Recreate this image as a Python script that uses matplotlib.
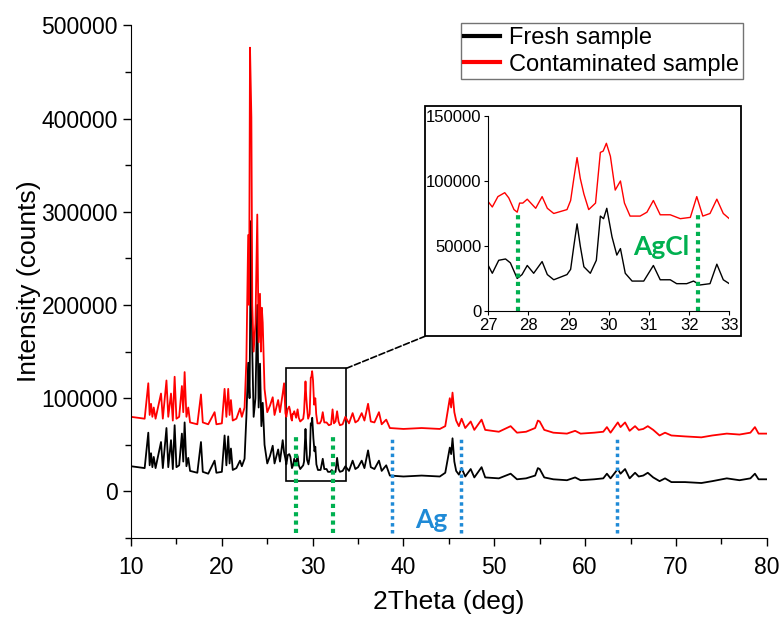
import matplotlib
matplotlib.use("Agg")
import matplotlib.pyplot as plt
from matplotlib.patches import Rectangle, ConnectionPatch

plt.rcParams['font.family'] = ['Liberation Sans', 'DejaVu Sans']

# Fresh sample (black)
fresh_x = [10.0, 11.5, 11.9, 12.05, 12.2, 12.35, 12.5, 12.7, 13.3, 13.5, 13.9, 14.1, 14.4, 14.6,
           14.8, 15.0, 15.3, 15.6, 15.75, 15.9, 16.1, 16.3, 16.5, 17.3, 17.7, 17.9, 18.5, 19.2,
           19.4, 20.0, 20.3, 20.5, 20.7, 20.85, 21.0, 21.2, 21.6, 22.0, 22.2, 22.5, 22.7, 22.9,
           23.05, 23.2, 23.35, 23.5, 23.7, 23.9, 24.05, 24.2, 24.35, 24.5, 24.7, 25.0, 25.3, 25.6,
           25.8, 26.2, 26.4, 26.7, 26.85,
           27.0, 27.1, 27.26, 27.43, 27.55, 27.72, 27.84, 27.97, 28.13, 28.34, 28.47, 28.63, 28.96,
           29.05, 29.13, 29.21, 29.29, 29.38, 29.54, 29.69, 29.79, 29.87, 29.95, 30.08, 30.2, 30.29,
           30.41, 30.58, 30.87, 30.95, 31.11, 31.28, 31.53, 31.69, 31.94, 32.11, 32.27, 32.52, 32.69,
           32.85, 33.0,
           33.3, 33.6, 34.0, 34.4, 34.7, 35.0, 35.4, 35.7, 36.1, 36.4, 36.8, 37.3, 37.6, 38.1, 38.5,
           40.0, 42.0, 44.0, 44.6, 45.1, 45.25, 45.4, 45.6, 45.8, 46.1, 46.4, 46.8, 47.4, 47.8, 48.6,
           49.0, 50.5, 51.8, 52.5, 53.5, 54.5, 54.8, 55.0, 55.5, 56.5, 58.0, 58.9, 59.5, 61.0, 62.0,
           62.4, 62.8, 63.6, 63.9, 64.4, 64.9, 65.5, 65.9, 66.4, 66.9, 67.5, 68.2, 68.8, 69.5, 71.0,
           72.8, 74.0, 75.6, 77.0, 78.2, 78.7, 79.1, 80.0]
fresh_y = [27000, 25000, 63000, 28000, 41000, 26000, 37000, 25000, 53000, 25000, 68000, 26000, 55000, 24000,
           71000, 26000, 28000, 62000, 32000, 74000, 27000, 36000, 22000, 20000, 53000, 21000, 19000, 33000,
           20000, 21000, 60000, 28000, 59000, 30000, 46000, 23000, 25000, 33000, 27000, 35000, 80000, 138000,
           100000, 290000, 150000, 80000, 100000, 200000, 90000, 137000, 70000, 95000, 50000, 30000, 38000, 49000,
           30000, 45000, 32000, 55000, 42000,
           35000, 29000, 39000, 40000, 37000, 25000, 28000, 35000, 29000, 38000, 28000, 24000, 28000,
           32000, 50000, 67000, 50000, 34000, 29000, 39000, 73000, 71000, 79000, 57000, 43000, 48000,
           29000, 23000, 23000, 27000, 35000, 24000, 24000, 21000, 21000, 23000, 20000, 21000, 36000,
           24000, 21000,
           22000, 27000, 22000, 33000, 24000, 26000, 33000, 25000, 44000, 26000, 24000, 33000, 22000, 28000, 17000,
           16000, 17000, 16000, 20000, 47000, 40000, 57000, 32000, 22000, 18000, 25000, 16000, 24000, 15000, 26000,
           15000, 14000, 19000, 13000, 14000, 17000, 25000, 24000, 15000, 13000, 12000, 15000, 12000, 13000, 14000,
           19000, 14000, 24000, 19000, 24000, 14000, 20000, 16000, 17000, 20000, 15000, 11000, 14000, 10000, 10000,
           9000, 11000, 14000, 12000, 14000, 19000, 13000, 13000]

# Contaminated sample (red)
cont_x = [10.0, 11.5, 11.9, 12.05, 12.2, 12.35, 12.5, 12.7, 13.3, 13.5, 13.9, 14.1, 14.4, 14.6,
          14.8, 15.0, 15.3, 15.6, 15.75, 15.9, 16.1, 16.3, 16.5, 17.3, 17.7, 17.9, 18.5, 19.2,
          19.4, 20.0, 20.3, 20.5, 20.7, 20.85, 21.0, 21.2, 21.6, 22.0, 22.2, 22.5, 22.7, 22.9,
          23.0, 23.1, 23.25, 23.35, 23.5, 23.7, 23.9, 24.05, 24.2, 24.3, 24.4, 24.5, 24.7, 25.0,
          25.3, 25.6, 25.8, 26.2, 26.4, 26.7, 26.85,
          27.0, 27.1, 27.24, 27.41, 27.51, 27.64, 27.72, 27.78, 27.86, 27.97, 28.18, 28.34, 28.47,
          28.63, 28.96, 29.05, 29.13, 29.21, 29.29, 29.38, 29.5, 29.67, 29.79, 29.86, 29.94, 30.04,
          30.16, 30.29, 30.39, 30.53, 30.78, 30.95, 31.11, 31.28, 31.53, 31.78, 32.03, 32.19, 32.34,
          32.52, 32.69, 32.85, 33.0,
          33.3, 33.6, 34.0, 34.4, 34.7, 35.0, 35.4, 35.7, 36.1, 36.4, 36.8, 37.3, 37.6, 38.1, 38.5,
          40.0, 42.0, 44.0, 44.6, 45.1, 45.25, 45.4, 45.6, 45.8, 46.1, 46.4, 46.8, 47.4, 47.8, 48.6,
          49.0, 50.5, 51.8, 52.5, 53.5, 54.5, 54.8, 55.0, 55.5, 56.5, 58.0, 58.9, 59.5, 61.0, 62.0,
          62.4, 62.8, 63.6, 63.9, 64.4, 64.9, 65.5, 65.9, 66.4, 66.9, 67.5, 68.2, 68.8, 69.5, 71.0,
          72.8, 74.0, 75.6, 77.0, 78.2, 78.7, 79.1, 80.0]
cont_y = [80000, 78000, 116000, 82000, 94000, 80000, 90000, 78000, 105000, 78000, 119000, 80000, 105000, 76000,
          123000, 78000, 80000, 113000, 85000, 128000, 80000, 90000, 74000, 72000, 104000, 74000, 72000, 85000,
          72000, 73000, 110000, 80000, 110000, 82000, 98000, 76000, 78000, 89000, 80000, 90000, 140000, 275000,
          200000, 476000, 401000, 200000, 150000, 180000, 297000, 160000, 212000, 150000, 197000, 181000, 110000, 85000,
          92000, 101000, 82000, 98000, 85000, 105000, 116000,
          84000, 80000, 88000, 91000, 87000, 78000, 76000, 83000, 83000, 86000, 79000, 88000, 79000,
          75000, 78000, 85000, 102000, 118000, 102000, 90000, 78000, 83000, 122000, 123000, 129000, 119000,
          93000, 100000, 83000, 73000, 73000, 76000, 85000, 74000, 74000, 71000, 72000, 88000, 73000,
          75000, 86000, 75000, 71000,
          72000, 80000, 73000, 84000, 74000, 76000, 84000, 76000, 94000, 75000, 74000, 85000, 72000, 77000, 68000,
          67000, 68000, 67000, 70000, 100000, 90000, 106000, 85000, 76000, 70000, 78000, 68000, 75000, 66000, 77000,
          66000, 64000, 70000, 63000, 64000, 68000, 76000, 75000, 66000, 63000, 62000, 65000, 62000, 63000, 64000,
          69000, 63000, 74000, 69000, 74000, 65000, 70000, 66000, 67000, 70000, 66000, 60000, 63000, 60000, 59000,
          58000, 60000, 62000, 61000, 63000, 69000, 62000, 62000]

agcl_peaks = [28.2, 32.2]
agcl_inset_peaks = [27.74, 32.21]
ag_peaks = [38.7, 46.3, 63.5]

GREEN = '#00b050'
BLUE = '#1f8ad6'

fig = plt.figure(figsize=(7.8, 6.17), dpi=100)
ax = fig.add_axes([0.168, 0.128, 0.815, 0.831])

ax.plot(fresh_x, fresh_y, color='black', lw=1.3, label='Fresh sample')
ax.plot(cont_x, cont_y, color='red', lw=1.3, label='Contaminated sample')

for p in agcl_peaks:
    ax.plot([p, p], [-45000, 58000], color=GREEN, lw=3, linestyle=(0, (1, 1)))
for p in ag_peaks:
    ax.plot([p, p], [-45000, 58000], color=BLUE, lw=2.5, linestyle=(0, (1, 1)))
ax.text(43.1, -31000, 'Ag', color=BLUE, fontsize=19, fontweight='bold',
        family=['Lato', 'DejaVu Sans'], ha='center', va='center')

ax.add_patch(Rectangle((27.1, 11000), 6.6, 121000, fill=False, edgecolor='black', lw=1.2))

ax.set_xlim(10, 80)
ax.set_ylim(-50000, 500000)
ax.set_xticks(range(10, 81, 10))
ax.set_xticks(range(15, 80, 10), minor=True)
ax.set_yticks(range(0, 500001, 100000))
ax.set_yticks(range(-50000, 500001, 50000), minor=True)
ax.spines['top'].set_visible(False)
ax.spines['right'].set_visible(False)
ax.tick_params(which='major', direction='out', length=6, labelsize=16.5, width=1)
ax.tick_params(axis='x', which='major', pad=7)
ax.tick_params(which='minor', direction='out', length=4, width=1)
ax.set_xlabel('2Theta (deg)', fontsize=19, labelpad=8)
ax.set_ylabel('Intensity (counts)', fontsize=19, labelpad=0)

ax.legend(loc='upper right', bbox_to_anchor=(0.952, 0.962), bbox_transform=fig.transFigure,
          fontsize=17, frameon=True, fancybox=False, edgecolor='0.45', framealpha=1,
          handlelength=1.5, handletextpad=0.4, labelspacing=0.2, borderpad=0.15,
          borderaxespad=0)
for line in ax.get_legend().get_lines():
    line.set_linewidth(3)

# inset frame and axes
frame = Rectangle((0.545, 0.455), 0.405, 0.374, transform=fig.transFigure,
                  facecolor='white', edgecolor='black', lw=1.3, zorder=2)
fig.add_artist(frame)
axin = fig.add_axes([0.626, 0.496, 0.309, 0.316], zorder=3)
axin.plot(fresh_x, fresh_y, color='black', lw=1.0)
axin.plot(cont_x, cont_y, color='red', lw=1.0)
for p in agcl_inset_peaks:
    axin.plot([p, p], [0, 77000], color=GREEN, lw=3, linestyle=(0, (1, 1)))
axin.text(31.3, 49000, 'AgCl', color=GREEN, fontsize=19, fontweight='bold',
          family=['Lato', 'DejaVu Sans'], ha='center', va='center')
axin.set_xlim(27, 33)
axin.set_ylim(0, 150000)
axin.set_xticks(range(27, 34))
axin.set_yticks([0, 50000, 100000, 150000])
axin.spines['top'].set_visible(False)
axin.spines['right'].set_visible(False)
axin.tick_params(direction='out', length=3, labelsize=12, pad=2)

con = ConnectionPatch(xyA=(33.7, 132000), coordsA=ax.transData,
                      xyB=(0.545, 0.455), coordsB=fig.transFigure,
                      linestyle='--', color='black', lw=1.2)
fig.add_artist(con)

fig.savefig('out.png', dpi=100)
